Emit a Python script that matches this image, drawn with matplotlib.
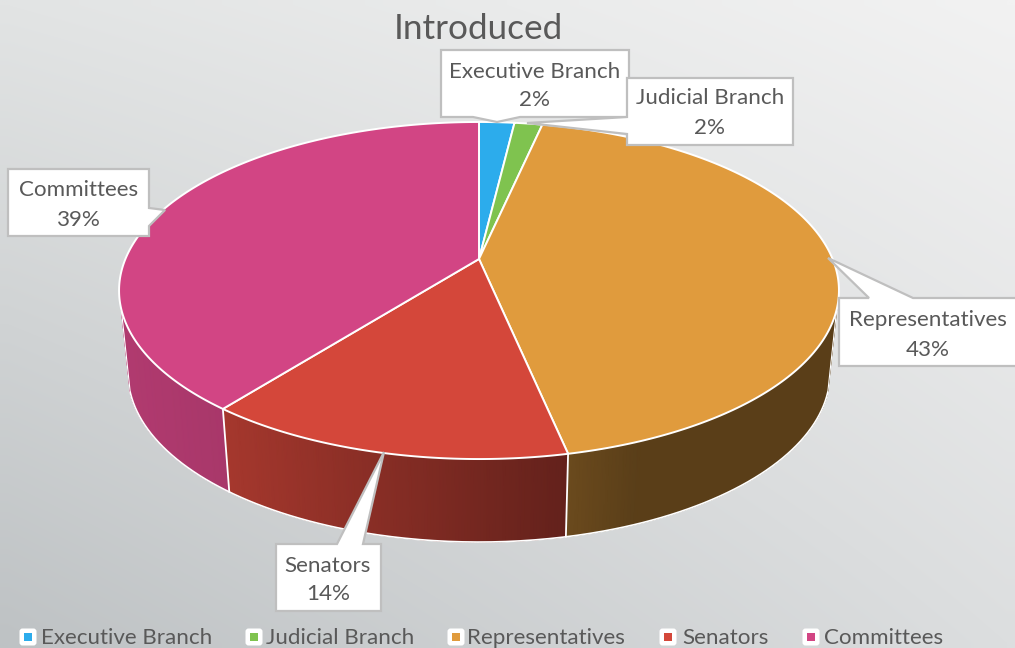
#!/usr/bin/env python3
# -*- coding: utf-8 -*-
"""Introduced - perspective 3D pie with callout labels"""
import matplotlib
matplotlib.use("Agg")
import matplotlib.pyplot as plt
from matplotlib.patches import FancyBboxPatch, Polygon
import numpy as np

# data
categories = ["Executive Branch", "Judicial Branch", "Representatives", "Senators", "Committees"]
shares = [1.9, 1.5, 43.3, 13.9, 39.4]
share_labels = ["2%", "2%", "43%", "14%", "39%"]
colors = ["#2CACEC", "#7FC34F", "#E09B3D", "#D4473A", "#D24584"]

TEXT = "#595959"
EDGE = "#BFBFBF"
FS = 16.1
plt.rcParams["font.family"] = ["Lato", "DejaVu Sans"]

# pie geometry, in pixels
CX, APEX_Y = 479.0, 259.0
RADIUS, PERSP, TILT = 353.6, 0.187, 114.2
DEPTH, BOTTOM_SCALE = 83.0, 0.975
WALL_FROM, WALL_TO = np.radians(107), np.radians(253)

# wall darkening for each slice: screen x stops, factors
wall_shades = {2: ([567, 640], [0.48, 0.40]),
               3: ([223, 567], [0.78, 0.47]),
               4: ([125, 225], [0.84, 0.80])}


def project(theta):
    """theta clockwise from 12 o'clock -> screen position of the top rim"""
    u, v = np.sin(theta), np.cos(theta)
    w = 1 + PERSP * v
    return CX + RADIUS * u / w, (APEX_Y - TILT * v) / w


def project_bottom(theta):
    x, y = project(theta)
    return CX + (x - CX) * BOTTOM_SCALE, y + DEPTH


fig = plt.figure(figsize=(10.15, 6.48), dpi=100)
ax = fig.add_axes([0, 0, 1, 1])
ax.axis("off")

# background gradient
gx, gy = np.meshgrid(np.linspace(0, 1, 64), np.linspace(0, 1, 64))
bg_tl, bg_tr = np.array([226, 228, 228]) / 255, np.array([242, 242, 242]) / 255
bg_bl, bg_br = np.array([190, 194, 196]) / 255, np.array([220, 222, 223]) / 255
bg = ((1 - gy) * (1 - gx))[..., None] * bg_tl + ((1 - gy) * gx)[..., None] * bg_tr \
    + (gy * (1 - gx))[..., None] * bg_bl + (gy * gx)[..., None] * bg_br
ax.imshow(bg, extent=(0, 1015, 648, 0), interpolation="bilinear", aspect="auto", zorder=0)
ax.set_xlim(0, 1015)
ax.set_ylim(648, 0)

edges = np.radians(np.cumsum([0] + shares) / sum(shares) * 360)

# side wall, only the front can be seen
for i, col in enumerate(colors):
    a0, a1 = max(edges[i], WALL_FROM), min(edges[i + 1], WALL_TO)
    if a1 <= a0:
        continue
    ts = np.linspace(a0, a1, 120)
    xt, yt = project(ts)
    xb, yb = project_bottom(ts)
    stops, factors = wall_shades[i]
    shade = np.interp(xt, stops, factors)
    c = np.outer(shade, matplotlib.colors.to_rgb(col))
    ax.pcolormesh(np.vstack([xt, xb]), np.vstack([yt, yb]), np.stack([c, c]),
                  shading="gouraud", zorder=2)

# white rim on the wall bottom and between the slices
rim = np.linspace(WALL_FROM, WALL_TO, 300)
ax.plot(*project_bottom(rim), color="white", lw=1.2, zorder=3)
for e in [WALL_FROM, WALL_TO]:
    xt, yt = project(e)
    xb, yb = project_bottom(e)
    ax.plot([xt, xb], [yt, yb], color="white", lw=0.8, zorder=3)
for e in edges:
    if WALL_FROM < e < WALL_TO:
        xt, yt = project(e)
        xb, yb = project_bottom(e)
        ax.plot([xt, xb], [yt, yb], color="white", lw=1.3, zorder=3)

# top face
for i, col in enumerate(colors):
    ts = np.linspace(edges[i], edges[i + 1], 200)
    xs, ys = project(ts)
    ax.fill(np.r_[CX, xs], np.r_[APEX_Y, ys], facecolor=col, edgecolor="white",
            linewidth=1.4, joinstyle="round", zorder=4)

# callouts: box (x0, y0, x1, y1), pointer outline, text centre
callouts = [
    (0, (441, 50, 629, 117), [(520, 117), (497, 122), (473, 117)], (535, 70, 99)),
    (1, (627, 78, 793, 145), [(627, 134), (527, 123), (627, 117)], (710, 97, 127)),
    (2, (839, 298, 1030, 366), [(869, 298), (828, 258), (913, 298)], (928, 318, 348)),
    (3, (276, 544, 381, 611), [(337, 544), (384, 452), (363, 544)], (328, 564, 593)),
    (4, (8, 169, 149, 236), [(149, 208), (165, 210), (149, 226)], (79, 189, 218)),
]
# draw order as in the picture, Judicial box sits over the Executive one
for n, (idx, box, tip, txt) in enumerate(callouts):
    x0, y0, x1, y1 = box
    outline = np.array([(x0, y0), (x1, y0), (x1, y1), (x0, y1)], dtype=float)
    # put the pointer in on the side it leaves from
    tip = np.array(tip, dtype=float)
    if tip[0, 1] == y0:      # top side
        pts = np.vstack([[(x0, y0)], tip, outline[[1, 2, 3]]])
    elif tip[0, 1] == y1:    # bottom side
        pts = np.vstack([outline[[0, 1, 2]], tip, outline[[3]]])
    elif tip[0, 0] == x1:    # right side
        pts = np.vstack([outline[[0, 1]], tip, outline[[2, 3]]])
    else:                    # left side
        pts = np.vstack([outline, tip])
    ax.add_patch(Polygon(pts, closed=True, facecolor="white", edgecolor=EDGE,
                         linewidth=1.6, joinstyle="miter", zorder=5 + n))
    ax.text(txt[0], txt[1] + 1.5, categories[idx], color=TEXT, fontsize=FS,
            ha="center", va="center", zorder=5 + n)
    ax.text(txt[0], txt[2] + 1.5, share_labels[idx], color=TEXT, fontsize=FS,
            ha="center", va="center", zorder=5 + n)

ax.text(478.5, 29, "Introduced", color=TEXT, fontsize=25.3, ha="center", va="center", zorder=12)

# legend
legend_marker_x = [28, 254, 456, 668, 811]
legend_text_x = [41, 266, 467, 682, 824]
for name, col, mx, tx in zip(categories, colors, legend_marker_x, legend_text_x):
    ax.add_patch(FancyBboxPatch((mx - 6, 631), 12, 12, boxstyle="round,pad=2.5,rounding_size=3",
                                facecolor="white", edgecolor="none", zorder=5))
    ax.add_patch(plt.Rectangle((mx - 4, 633), 8, 8, facecolor=col, edgecolor="none", zorder=6))
    ax.text(tx, 638, name, color=TEXT, fontsize=FS, ha="left", va="center", zorder=6)

fig.savefig("out.png", dpi=100)
